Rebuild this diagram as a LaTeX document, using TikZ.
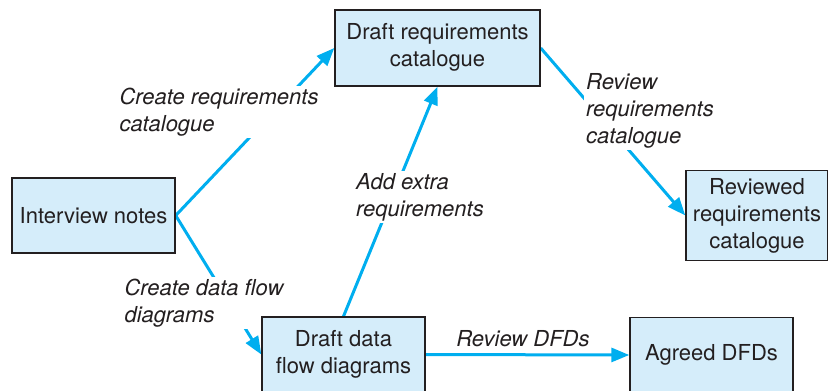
\documentclass[tikz,border=0pt]{standalone}
\usepackage{fontspec}
\setmainfont{TeX Gyre Heros}
\usepackage{tikz}
\usetikzlibrary{arrows.meta}
\usetikzlibrary{backgrounds}
\usetikzlibrary{positioning}
\definecolor{boxblue}{HTML}{D5EDFA}
\definecolor{flowcyan}{HTML}{00AEEF}
\definecolor{inkgray}{HTML}{231F20}

\begin{document}
\begin{tikzpicture}[
x=0.5pt, y=-0.5pt,
every node/.style={font=\fontsize{11}{13.5}\selectfont, text=inkgray},
stage/.style={draw=inkgray, fill=boxblue, line width=0.7pt, align=center, inner sep=0},
activity/.style={fill=white, align=left, inner sep=1pt, font=\fontsize{11}{13.5}\selectfont\itshape},
every path/.style={line width=1.5pt},
flow/.style={draw=flowcyan, -{Triangle[length=9pt, width=7pt]}}
]
\useasboundingbox (0,0) rectangle (828,390);
% Stages
\node[stage, minimum width=81.5pt, minimum height=37.5pt] (notes) at (93.5,215.5) {Interview notes};
\node[stage, minimum width=102.5pt, minimum height=38pt, text depth=3pt] (draft) at (437.5,48) {Draft requirements\\catalogue};
\node[stage, minimum width=71pt, minimum height=45pt] (reviewed) at (757,215.5) {Reviewed\\requirements\\catalogue};
\node[stage, minimum width=81.5pt, minimum height=37.5pt] (dfd) at (343.5,354.5) {Draft data\\flow diagrams};
\node[stage, minimum width=81.5pt, minimum height=37.5pt] (agreed) at (711.5,355) {Agreed DFDs};
% Activities
\begin{scope}[on background layer]
\draw[flow] (notes.east) -- (draft.west);
\draw[flow] (notes.east) -- (dfd.west);
\draw[flow] (dfd.north) -- (draft.south);
\draw[flow] (draft.east) -- (reviewed.west);
\draw[flow] (dfd.east) -- (agreed.west);
\node[activity] (createcat) at (219,112) {Create requirements\\catalogue};
\node[activity] (createdfd) at (204,303) {Create data flow\\diagrams};
\node[activity] (addextra) at (420,197) {Add extra\\requirements};
\node[activity] (reviewcat) at (650,111) {Review\\requirements\\catalogue};
\node[activity, fill=none] (reviewdfd) at (523,339) {Review DFDs};
\end{scope}
\end{tikzpicture}
\end{document}
